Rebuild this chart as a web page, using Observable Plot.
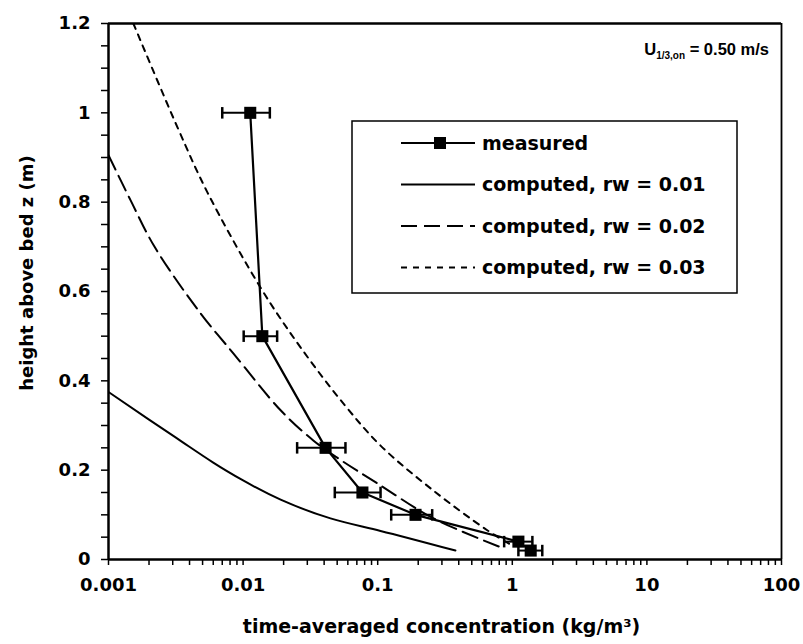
<!DOCTYPE html>
<html><head><meta charset="utf-8">
<script src="https://cdn.jsdelivr.net/npm/d3@7"></script>
<script src="https://cdn.jsdelivr.net/npm/@observablehq/plot@0.6"></script>
<style>
body{margin:0;background:#fff;}
#chart{width:803px;height:644px;}
</style></head><body><div id="chart"></div>
<script>
// measured profile
const heights      = [1.0, 0.5, 0.25, 0.15, 0.1, 0.04, 0.02];
const measuredConc = [0.0113, 0.0139, 0.041, 0.077, 0.191, 1.11, 1.37];
const errLow       = [0.0070, 0.0101, 0.0252, 0.048, 0.126, 0.87, 1.11];
const errHigh      = [0.0158, 0.0179, 0.0576, 0.105, 0.254, 1.41, 1.67];

// computed profiles
const rw01Conc = [0.001, 0.002, 0.0035, 0.006, 0.01, 0.019, 0.0446, 0.105, 0.378];
const rw01Z    = [0.375, 0.313, 0.264, 0.217, 0.177, 0.134, 0.092, 0.064, 0.02];
const rw02Conc = [0.001, 0.00146, 0.0022, 0.00483, 0.00849, 0.019, 0.0334, 0.05, 0.1, 0.26, 0.86];
const rw02Z    = [0.905, 0.804, 0.70, 0.551, 0.461, 0.334, 0.266, 0.228, 0.17, 0.092, 0.025];
const rw03Conc = [0.00153, 0.00326, 0.00543, 0.01346, 0.0267, 0.0557, 0.105, 0.26, 0.655, 0.95];
const rw03Z    = [1.2, 0.967, 0.822, 0.609, 0.475, 0.349, 0.255, 0.154, 0.065, 0.035];

// ticks
const xTicks = [0.001, 0.01, 0.1, 1, 10, 100];
const xTickLabels = ["0.001", "0.01", "0.1", "1", "10", "100"];
const yTicks = [0, 0.2, 0.4, 0.6, 0.8, 1, 1.2];
const yTickLabels = ["0", "0.2", "0.4", "0.6", "0.8", "1", "1.2"];
const xMinorTicks = [];
for (const d of [0.001, 0.01, 0.1, 1, 10]) for (const k of [2,3,4,5,6,7,8,9]) xMinorTicks.push(+(d*k).toPrecision(3));
const yMinorTicks = [0.05,0.1,0.15,0.25,0.3,0.35,0.45,0.5,0.55,0.65,0.7,0.75,0.85,0.9,0.95,1.05,1.1,1.15];

const legendLabels = ["measured", "computed, rw = 0.01", "computed, rw = 0.02", "computed, rw = 0.03"];

const measured = heights.map((z, i) => ({z, c: measuredConc[i], lo: errLow[i], hi: errHigh[i]}));
const rows = (cs, zs) => cs.map((c, i) => ({c, z: zs[i]}));
const xLab = new Map(xTicks.map((t, i) => [t, xTickLabels[i]]));
const yLab = new Map(yTicks.map((t, i) => [t, yTickLabels[i]]));
const vbar = {draw(ctx, size){ const h = Math.sqrt(size) / 2; ctx.moveTo(0, -h); ctx.lineTo(0, h); }};

const font = "DejaVu Sans, sans-serif";
const plot = Plot.plot({
  width: 803, height: 644,
  marginLeft: 108, marginRight: 22, marginTop: 23, marginBottom: 85,
  style: {fontFamily: font, fontWeight: "bold", fontSize: "18px", color: "#000", background: "#fff"},
  x: {type: "log", domain: [0.001, 100]},
  y: {domain: [0, 1.2]},
  marks: [
    Plot.axisX(xMinorTicks, {tickSize: 6, tickFormat: () => "", strokeWidth: 1.5, label: null}),
    Plot.axisX(xTicks, {tickSize: 6, tickPadding: 13, tickFormat: d => xLab.get(d), strokeWidth: 1.5, fontSize: 18, label: null}),
    Plot.axisY(yMinorTicks, {tickSize: 7, tickFormat: () => "", strokeWidth: 1.5, label: null}),
    Plot.axisY(yTicks, {tickSize: 7, tickPadding: 11, tickFormat: d => yLab.get(d), strokeWidth: 1.5, fontSize: 18, label: null}),
    Plot.line(rows(rw01Conc, rw01Z), {x: "c", y: "z", curve: "natural", stroke: "black", strokeWidth: 2, clip: true}),
    Plot.line(rows(rw02Conc, rw02Z), {x: "c", y: "z", curve: "catmull-rom", stroke: "black", strokeWidth: 2, strokeDasharray: "16,7", clip: true}),
    Plot.line(rows(rw03Conc, rw03Z), {x: "c", y: "z", curve: "catmull-rom", stroke: "black", strokeWidth: 2, strokeDasharray: "6,6", clip: true}),
    Plot.link(measured, {x1: "lo", x2: "hi", y1: "z", y2: "z", stroke: "black", strokeWidth: 2}),
    Plot.dot(measured, {x: "lo", y: "z", symbol: vbar, r: 6.5, stroke: "black", strokeWidth: 2.5}),
    Plot.dot(measured, {x: "hi", y: "z", symbol: vbar, r: 6.5, stroke: "black", strokeWidth: 2.5}),
    Plot.line(measured, {x: "c", y: "z", stroke: "black", strokeWidth: 2.2}),
    Plot.dot(measured, {x: "c", y: "z", symbol: "square", r: 6.8, fill: "black", stroke: "none"}),
    Plot.ruleY([0], {stroke: "black", strokeWidth: 2.5}),
    Plot.ruleY([1.2], {stroke: "black", strokeWidth: 2.5}),
    Plot.ruleX([0.001], {stroke: "black", strokeWidth: 2.5}),
    Plot.ruleX([100], {stroke: "black", strokeWidth: 1.8})
  ]
});

const svg = d3.select(plot);
const xs = plot.scale("x"), ys = plot.scale("y");
const L = xs.apply(0.001), R = xs.apply(100), T = ys.apply(1.2), B = ys.apply(0);

// axis titles
svg.append("text").attr("x", (L + R) / 2 - 3).attr("y", B + 74).attr("text-anchor", "middle")
  .attr("font-family", font).attr("font-weight", "bold").attr("font-size", 19)
  .text("time-averaged concentration (kg/m³)");
svg.append("text").attr("transform", `translate(33,${(T + B) / 2 - 18}) rotate(-90)`).attr("text-anchor", "middle")
  .attr("font-family", font).attr("font-weight", "bold").attr("font-size", 18)
  .text("height above bed z (m)");

// annotation
const ann = svg.append("text").attr("x", R - 12).attr("y", T + 32).attr("text-anchor", "end")
  .attr("font-family", "Liberation Sans, Arial, sans-serif").attr("font-weight", "bold").attr("font-size", 16.5);
ann.append("tspan").text("U");
ann.append("tspan").attr("font-size", 10).attr("dy", 4).text("1/3,on");
ann.append("tspan").attr("dy", -4).text(" = 0.50 m/s");

// legend
const lg = svg.append("g").attr("font-family", font).attr("font-weight", "bold").attr("font-size", 19).attr("text-anchor", "start");
const bx = L + 244, by = T + 98, bw = 385, bh = 172;
lg.append("rect").attr("x", bx).attr("y", by).attr("width", bw).attr("height", bh)
  .attr("fill", "white").attr("stroke", "black").attr("stroke-width", 1.5);
const dashes = [null, null, "16,7", "6,6"];
legendLabels.forEach((lab, i) => {
  const yy = by + 22 + i * 41.5;
  lg.append("line").attr("x1", bx + 49).attr("x2", bx + 123).attr("y1", yy).attr("y2", yy)
    .attr("stroke", "black").attr("stroke-width", 2).attr("stroke-dasharray", dashes[i]);
  if (i === 0) lg.append("rect").attr("x", bx + 82).attr("y", yy - 6).attr("width", 12).attr("height", 12).attr("fill", "black");
  lg.append("text").attr("x", bx + 130).attr("y", yy).attr("dy", "0.36em").attr("text-anchor", "start").text(lab);
});

document.getElementById("chart").appendChild(plot);
</script></body></html>
